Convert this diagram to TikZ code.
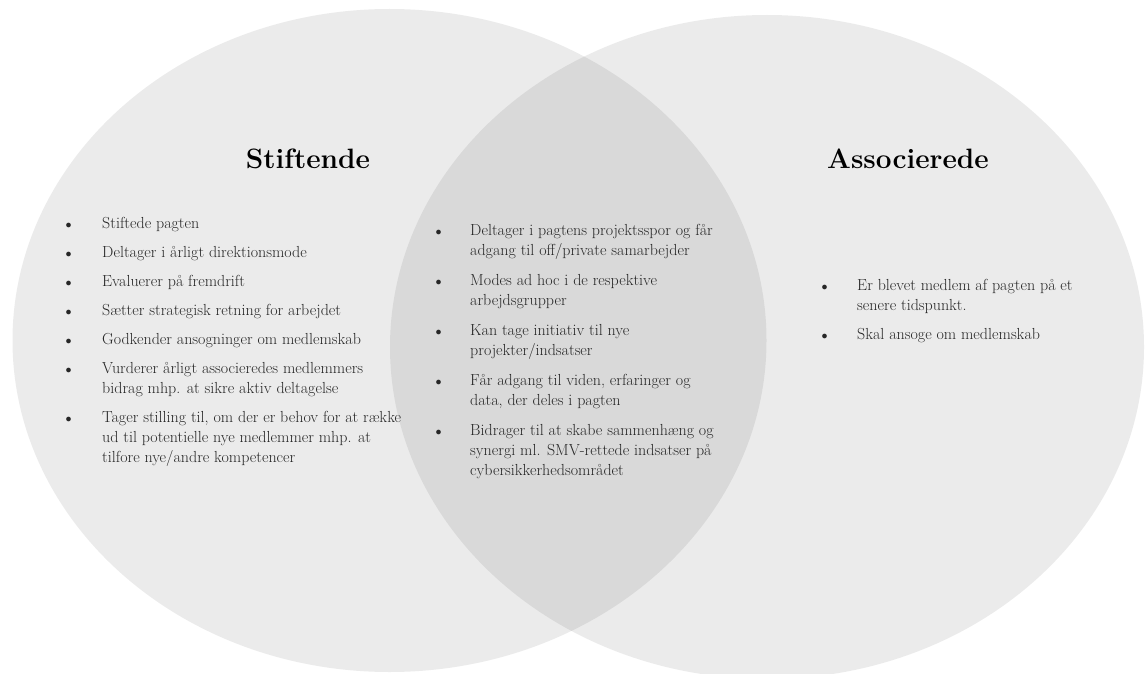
\documentclass[tikz,border=0pt]{standalone}
\definecolor{tekst}{HTML}{262626}
\newcommand{\prik}{{\fontsize{13}{13}\selectfont$\bullet$}}
\begin{document}
\begin{tikzpicture}[x=1pt, y=-1pt,
    kreds/.style = {fill=black, fill opacity=0.08},
    titel/.style = {font=\fontsize{28}{32}\selectfont\bfseries, text=black, inner sep=0pt, anchor=base},
    liste/.style = {font=\fontsize{16}{20}\selectfont, text=tekst, inner sep=0pt, anchor=base west}]
    \useasboundingbox (0,0) rectangle (1145,674);
    % de to cirkler
    \fill[kreds] (389.5,340.5) ellipse [x radius=377, y radius=331.5];
    \fill[kreds] (767,347) ellipse [x radius=377, y radius=332];
    % overskrifter
    \node[titel] (stiftende) at (308,168) {Stiftende};
    \node[titel] (associerede) at (908,168) {Associerede};
    % punkter
    \node[liste] (venstre) at (65.5,228) {\begin{tabular}[t]{@{}p{36.5pt}@{}l@{}}
        \prik & Stiftede pagten\\[9pt]
        \prik & Deltager i årligt direktionsmode\\[9pt]
        \prik & Evaluerer på fremdrift\\[9pt]
        \prik & Sætter strategisk retning for arbejdet\\[9pt]
        \prik & Godkender ansogninger om medlemskab\\[9pt]
        \prik & Vurderer årligt associeredes medlemmers\\
              & bidrag mhp. at sikre aktiv deltagelse\\[9pt]
        \prik & Tager stilling til, om der er behov for at række\\
              & ud til potentielle nye medlemmer mhp. at\\
              & tilfore nye/andre kompetencer
    \end{tabular}};
    \node[liste] (midte) at (435.5,235) {\begin{tabular}[t]{@{}p{34.5pt}@{}l@{}}
        \prik & Deltager i pagtens projektsspor og får\\
              & adgang til off/private samarbejder\\[10pt]
        \prik & Modes ad hoc i de respektive\\
              & arbejdsgrupper\\[10pt]
        \prik & Kan tage initiativ til nye\\
              & projekter/indsatser\\[10pt]
        \prik & Får adgang til viden, erfaringer og\\
              & data, der deles i pagten\\[10pt]
        \prik & Bidrager til at skabe sammenhæng og\\
              & synergi ml. SMV-rettede indsatser på\\
              & cybersikkerhedsområdet
    \end{tabular}};
    \node[liste] (hoejre) at (821.5,290) {\begin{tabular}[t]{@{}p{35.5pt}@{}l@{}}
        \prik & Er blevet medlem af pagten på et\\
              & senere tidspunkt.\\[9pt]
        \prik & Skal ansoge om medlemskab
    \end{tabular}};
\end{tikzpicture}
\end{document}
